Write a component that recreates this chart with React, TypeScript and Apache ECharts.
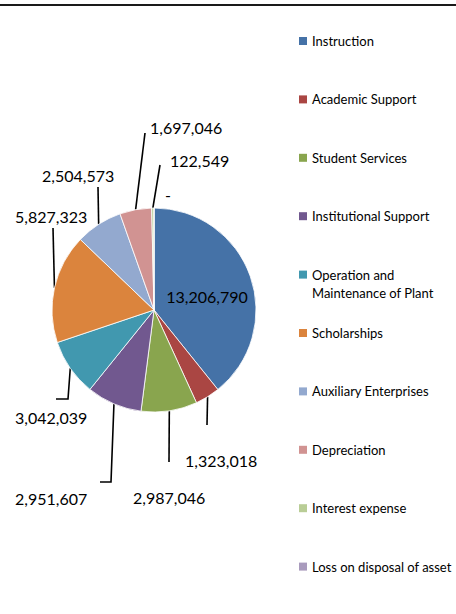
import React, { useEffect, useRef } from "react";
import * as echarts from "echarts";

const categories = [
  "Instruction",
  "Academic Support",
  "Student Services",
  "Institutional Support",
  "Operation and Maintenance of Plant",
  "Scholarships",
  "Auxiliary Enterprises",
  "Depreciation",
  "Interest expense",
  "Loss on disposal of asset",
];
const legendLabels = [
  "Instruction",
  "Academic Support",
  "Student Services",
  "Institutional Support",
  "\nOperation and\nMaintenance of Plant",
  "Scholarships",
  "Auxiliary Enterprises",
  "Depreciation",
  "Interest expense",
  "Loss on disposal of asset",
];
const values = [13206790, 1323018, 2987046, 2951607, 3042039, 5827323, 2504573, 1697046, 122549, 0];
const colors = ["#4572A7", "#AA4643", "#89A54E", "#71588F", "#4198AF", "#DB843D", "#93A9CF", "#D19392", "#B9CD96", "#A99BBD"];

// label placement (layout only): text anchor x/y, align, and leader-line path after the slice edge
const labelPlace: { x: number; y: number; align: string; line: number[][] | null }[] = [
  { x: 207, y: 296, align: "center", line: null },
  { x: 185, y: 460, align: "left", line: [[207, 425]] },
  { x: 133, y: 497, align: "left", line: [[169, 462]] },
  { x: 15, y: 498, align: "left", line: [[111, 482], [100, 482]] },
  { x: 15, y: 417, align: "left", line: [[68, 399], [56, 399]] },
  { x: 15, y: 216, align: "left", line: [[53, 228]] },
  { x: 42, y: 175, align: "left", line: [[98, 187]] },
  { x: 150, y: 127, align: "left", line: [[145, 133]] },
  { x: 170, y: 160, align: "left", line: [[160, 165]] },
  { x: 165, y: 194, align: "left", line: null },
];

const FONT = "Lato, 'Noto Sans', sans-serif";

export default function App() {
  const ref = useRef<HTMLDivElement>(null);
  useEffect(() => {
    if (!ref.current) return;
    const chart = echarts.init(ref.current, null, { renderer: "svg" });
    const fmt = (v: number) => (v === 0 ? "-" : v.toLocaleString("en-US"));
    const legends = categories.map((name, i) => ({
      orient: "vertical",
      left: 299,
      top: 32 + i * 58.4 - (i === 4 ? 18 : 0),
      padding: 0,
      itemWidth: 8,
      itemHeight: 8,
      itemGap: 0,
      icon: "rect",
      itemStyle: { borderWidth: 0 },
      selectedMode: false,
      data: [name],
      formatter: () => legendLabels[i],
      textStyle: {
        fontFamily: FONT,
        fontSize: 13,
        color: "#000",
        lineHeight: 18,
      },
    }));
    chart.setOption({
      animation: false,
      backgroundColor: "#fff",
      color: colors,
      legend: legends,
      graphic: [
        {
          type: "line",
          shape: { x1: 0, y1: 5, x2: 456, y2: 5 },
          style: { stroke: "#1a1a1a", lineWidth: 2 },
        },
      ],
      series: [
        {
          type: "pie",
          center: [154, 310],
          radius: 102,
          startAngle: 90,
          clockwise: true,
          avoidLabelOverlap: false,
          itemStyle: { borderColor: "#fff", borderWidth: 0.8 },
          data: categories.map((name, i) => ({
            name,
            value: values[i],
            label: i === 0 ? { position: "inside" } : undefined,
            labelLine: { show: labelPlace[i].line !== null },
          })),
          label: {
            show: true,
            position: "outside",
            formatter: (p: any) => fmt(p.value),
            fontFamily: FONT,
            fontSize: 16,
            color: "#000",
          },
          labelLine: {
            show: true,
            length: 10,
            length2: 10,
            lineStyle: { color: "#000", width: 1.6 },
          },
          labelLayout: (p: any) => {
            const lp = labelPlace[p.dataIndex];
            const res: any = {
              x: lp.x,
              y: lp.y,
              align: lp.align,
              verticalAlign: "middle",
            };
            if (lp.line && p.labelLinePoints) {
              res.labelLinePoints = [p.labelLinePoints[0], ...lp.line];
            }
            return res;
          },
          emphasis: { disabled: true },
        },
      ],
    });
    return () => chart.dispose();
  }, []);
  return (
    <div
      ref={ref}
      style={{ position: "fixed", left: 0, top: 0, width: 456, height: 614 }}
    />
  );
}
